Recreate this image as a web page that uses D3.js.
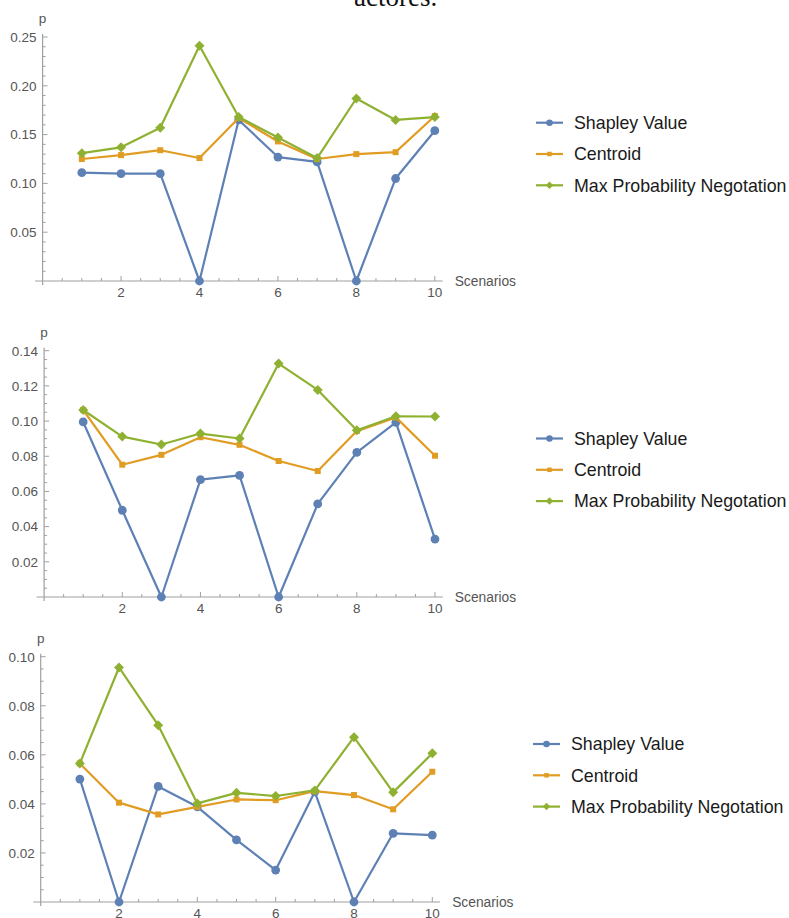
<!DOCTYPE html>
<html>
<head>
<meta charset="utf-8">
<script src="https://cdn.jsdelivr.net/npm/d3@7"></script>
<style>
  body { margin: 0; background: #fff; }
  svg { display: block; }
  text { font-family: Arial, "Liberation Sans", sans-serif; }
</style>
</head>
<body>
<script>
// scenarios 1..10
const scenarios = [1, 2, 3, 4, 5, 6, 7, 8, 9, 10];
const seriesNames = ['Shapley Value', 'Centroid', 'Max Probability Negotation'];
const seriesColors = ['#5e81b5', '#e19c24', '#8fb131'];

// panel 1
const shapley1 = [0.111, 0.110, 0.110, 0.0, 0.165, 0.127, 0.122, 0.0, 0.105, 0.154];
const centroid1 = [0.125, 0.129, 0.134, 0.126, 0.167, 0.143, 0.125, 0.130, 0.132, 0.169];
const maxProb1 = [0.131, 0.137, 0.157, 0.241, 0.168, 0.147, 0.126, 0.187, 0.165, 0.168];
const yTicks1 = [0.05, 0.10, 0.15, 0.20, 0.25];

// panel 2
const shapley2 = [0.0995, 0.0493, 0.0, 0.0667, 0.0691, 0.0, 0.0529, 0.0822, 0.0993, 0.0329];
const centroid2 = [0.1063, 0.0752, 0.0808, 0.0908, 0.0865, 0.0773, 0.0716, 0.0943, 0.1021, 0.0803];
const maxProb2 = [0.1063, 0.0912, 0.0867, 0.0929, 0.0901, 0.1327, 0.1177, 0.0948, 0.1027, 0.1026];
const yTicks2 = [0.02, 0.04, 0.06, 0.08, 0.10, 0.12, 0.14];

// panel 3
const shapley3 = [0.0501, 0.0, 0.0471, 0.0388, 0.0253, 0.0130, 0.0449, 0.0, 0.0280, 0.0273];
const centroid3 = [0.0565, 0.0405, 0.0357, 0.0388, 0.0418, 0.0415, 0.0452, 0.0436, 0.0378, 0.0531];
const maxProb3 = [0.0565, 0.0956, 0.0721, 0.0402, 0.0445, 0.0432, 0.0455, 0.0672, 0.0447, 0.0606];
const yTicks3 = [0.02, 0.04, 0.06, 0.08, 0.10];

const xTicks = [2, 4, 6, 8, 10];

const svg = d3.select('body').append('svg')
    .attr('width', 789)
    .attr('height', 918);

// cut-off caption line from the page above
svg.append('text')
    .attr('x', 354)
    .attr('y', 6)
    .style('font-family', '"Liberation Serif", "DejaVu Serif", serif')
    .attr('font-size', 27)
    .attr('fill', '#111')
    .text('actores.');

function marker(g, i, x, y, s) {
    const c = seriesColors[i];
    if (i === 0) {
        g.append('circle').attr('cx', x).attr('cy', y).attr('r', 4.4 * s).attr('fill', c);
    } else if (i === 1) {
        const h = 3 * s;
        g.append('rect').attr('x', x - h).attr('y', y - h)
            .attr('width', 2 * h).attr('height', 2 * h).attr('fill', c);
    } else {
        const h = 5 * s;
        g.append('path')
            .attr('d', `M${x},${y - h}L${x + h},${y}L${x},${y + h}L${x - h},${y}Z`)
            .attr('fill', c);
    }
}

function drawPanel(p) {
    const g = svg.append('g');
    const x = d3.scaleLinear().domain([0, 10]).range([p.x0, p.x10]);
    const y = d3.scaleLinear().domain([0, p.yMax]).range([p.y0, p.yTop]);
    const axisCol = '#a0a0a0';

    // x axis line
    g.append('line')
        .attr('x1', x(-0.19)).attr('x2', x(10.2))
        .attr('y1', p.y0).attr('y2', p.y0)
        .attr('stroke', axisCol).attr('stroke-width', 1.2);
    // y axis line
    g.append('line')
        .attr('x1', p.x0).attr('x2', p.x0)
        .attr('y1', p.y0 + 4).attr('y2', p.yTop - 3)
        .attr('stroke', axisCol).attr('stroke-width', 1.2);

    // x ticks (minor every 0.5)
    d3.range(0.5, 10.01, 0.5).forEach(v => {
        const major = Math.abs(v % 2) < 1e-6;
        g.append('line')
            .attr('x1', x(v)).attr('x2', x(v))
            .attr('y1', p.y0).attr('y2', p.y0 - (major ? 5 : 3))
            .attr('stroke', axisCol).attr('stroke-width', 1);
    });
    xTicks.forEach(v => {
        g.append('text')
            .attr('x', x(v)).attr('y', p.y0 + 16)
            .attr('text-anchor', 'middle')
            .attr('font-size', 13.5).attr('fill', '#555')
            .text(v);
    });

    // y ticks
    const nMinor = Math.round(p.yMax / p.minorStep);
    for (let k = 1; k <= nMinor; k++) {
        const v = k * p.minorStep;
        const major = p.ticks.some(t => Math.abs(t - v) < 1e-9);
        g.append('line')
            .attr('x1', p.x0).attr('x2', p.x0 + (major ? 5 : 3))
            .attr('y1', y(v)).attr('y2', y(v))
            .attr('stroke', axisCol).attr('stroke-width', 1);
    }
    p.ticks.forEach(v => {
        g.append('text')
            .attr('x', p.x0 - 6).attr('y', y(v) + 4.8)
            .attr('text-anchor', 'end')
            .attr('font-size', 13.5).attr('fill', '#555')
            .text(v.toFixed(2));
    });

    // axis labels
    g.append('text')
        .attr('x', p.x0).attr('y', p.yTop - 14)
        .attr('text-anchor', 'middle')
        .attr('font-size', 13.5).attr('fill', '#555')
        .text('p');
    g.append('text')
        .attr('x', x(10.2) + 12).attr('y', p.y0 + 4.5)
        .attr('font-size', 13.8).attr('fill', '#555')
        .text('Scenarios');

    // series
    const line = d3.line().x((d, j) => x(scenarios[j])).y(d => y(d));
    p.series.forEach((vals, i) => {
        g.append('path')
            .datum(vals)
            .attr('d', line)
            .attr('fill', 'none')
            .attr('stroke', seriesColors[i])
            .attr('stroke-width', 2.2)
            .attr('stroke-linejoin', 'round');
        vals.forEach((v, j) => marker(g, i, x(scenarios[j]), y(v), 1));
    });

    // legend
    seriesNames.forEach((name, i) => {
        const cy = p.legY + i * 31.3;
        g.append('line')
            .attr('x1', p.legX).attr('x2', p.legX + 27)
            .attr('y1', cy).attr('y2', cy)
            .attr('stroke', seriesColors[i]).attr('stroke-width', 2.2);
        marker(g, i, p.legX + 13.5, cy, 0.75);
        g.append('text')
            .attr('x', p.legX + 38).attr('y', cy + 6.3)
            .attr('font-size', 17.8).attr('fill', '#1a1a1a')
            .text(name);
    });
}

drawPanel({ x0: 42.6, x10: 434.8, y0: 281, yTop: 37, yMax: 0.25, minorStep: 0.01,
            ticks: yTicks1, series: [shapley1, centroid1, maxProb1], legX: 536, legY: 122.7 });
drawPanel({ x0: 44.1, x10: 435, y0: 597, yTop: 350.7, yMax: 0.14, minorStep: 0.005,
            ticks: yTicks2, series: [shapley2, centroid2, maxProb2], legX: 536, legY: 438.5 });
drawPanel({ x0: 40.7, x10: 432.3, y0: 902, yTop: 656.7, yMax: 0.10, minorStep: 0.005,
            ticks: yTicks3, series: [shapley3, centroid3, maxProb3], legX: 533, legY: 744 });
</script>
</body>
</html>
